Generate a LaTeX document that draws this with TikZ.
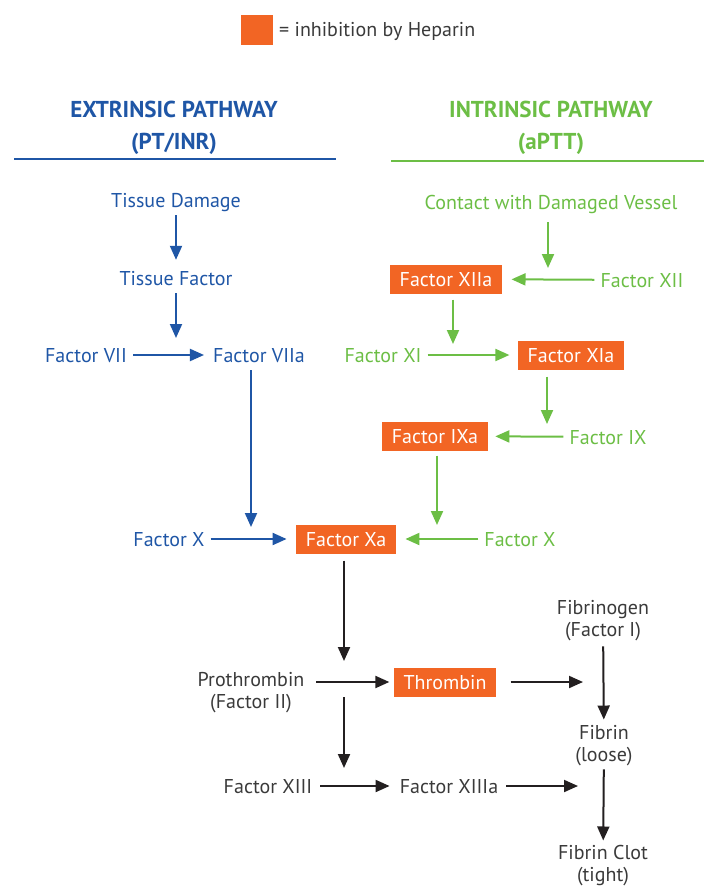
\documentclass[tikz,border=0pt]{standalone}
\usepackage{fontspec}
\setmainfont{PT Sans}
\usetikzlibrary{arrows.meta}
\definecolor{eblue}{HTML}{1F56A6}
\definecolor{igreen}{HTML}{6CBE45}
\definecolor{hep}{HTML}{F26524}
\definecolor{dk}{HTML}{231F20}
\definecolor{txt}{HTML}{3A3A3A}
\begin{document}
\begin{tikzpicture}[x=1pt,y=-1pt,
  lbl/.style={font=\fontsize{20}{22}\selectfont, inner sep=0pt, text height=17pt, text depth=3pt},
  lbl2/.style={font=\fontsize{20}{22}\selectfont, inner sep=0pt, align=center},
  hbox/.style={lbl, fill=hep, text=white, minimum height=29pt, inner xsep=10pt},
  head/.style={font=\bfseries\fontsize{23}{32}\selectfont, inner sep=0pt, align=center},
  arr/.style={-{Triangle[length=14pt,width=12pt]}, line width=2pt},
  barr/.style={arr, draw=eblue},
  garr/.style={arr, draw=igreen},
  karr/.style={arr, draw=dk}]
\useasboundingbox (0,0) rectangle (704,886);

% legend
\node[fill=hep, minimum width=32pt, minimum height=30pt, inner sep=0pt] (leg) at (257,30) {};
\node[lbl, anchor=west, text=txt] (legt) at (279,29) {= inhibition by Heparin};

% headings
\node[head, text=eblue] (eh) at (174,128) {EXTRINSIC PATHWAY\\(PT/INR)};
\node[head, text=igreen] (ih) at (551,128) {INTRINSIC PATHWAY\\(aPTT)};
\coordinate (el1) at (14,159); \coordinate (el2) at (336,159);
\coordinate (il1) at (391,161); \coordinate (il2) at (704,161);
\draw[eblue, line width=2.5pt] (el1) -- (el2);
\draw[igreen, line width=2.5pt] (il1) -- (il2);

% extrinsic
\node[lbl, text=eblue] (td) at (176,200) {Tissue Damage};
\node[lbl, text=eblue] (tf) at (176,278) {Tissue Factor};
\node[lbl, text=eblue] (fvii) at (86,355) {Factor VII};
\node[lbl, text=eblue] (fviia) at (259,355) {Factor VIIa};
\node[lbl, text=eblue] (fxb) at (169,539) {Factor X};

% intrinsic
\node[lbl, text=igreen] (cdv) at (551,202) {Contact with Damaged Vessel};
\node[hbox] (fxiia) at (446,279) {Factor XIIa};
\node[lbl, text=igreen] (fxii) at (642,280) {Factor XII};
\node[lbl, text=igreen] (fxi) at (383,355) {Factor XI};
\node[hbox] (fxia) at (571,355) {Factor XIa};
\node[hbox] (fixa) at (435,436) {Factor IXa};
\node[lbl, text=igreen] (fix) at (608,437) {Factor IX};
\node[lbl, text=igreen] (fxg) at (520,539) {Factor X};

% common
\node[hbox] (fxa) at (346,539) {Factor Xa};
\node[lbl2, text=txt] (pro) at (251,693) {Prothrombin\\(Factor II)};
\node[hbox] (thr) at (445,682) {Thrombin};
\node[lbl2, text=txt] (fbg) at (603,621) {Fibrinogen\\(Factor I)};
\node[lbl2, text=txt] (fib) at (604,746) {Fibrin\\(loose)};
\node[lbl2, text=txt] (fcl) at (603,866) {Fibrin Clot\\(tight)};
\node[lbl, text=txt] (fxiii) at (268,786) {Factor XIII};
\node[lbl, text=txt] (fxiiia) at (449,786) {Factor XIIIa};

% free ends
\coordinate (a2) at (176,338);
\coordinate (a4) at (251,527);
\coordinate (a7) at (548,268);
\coordinate (a9) at (453,344);
\coordinate (a11) at (547,424);
\coordinate (a13) at (437,525);
\coordinate (a14) at (344,661);
\coordinate (a16) at (583,682);
\coordinate (j2) at (344,697);
\coordinate (a19) at (344,768);
\coordinate (a21) at (578,786);

% extrinsic arrows
\draw[barr, shorten <=5pt, shorten >=8pt] (td) -- (tf);
\draw[barr, shorten <=5pt] (tf) -- (a2);
\draw[barr, shorten <=6pt, shorten >=9pt] (fvii) -- (fviia);
\draw[barr, shorten <=5pt] (fviia.south -| a4) -- (a4);
\draw[barr, shorten <=6pt, shorten >=9pt] (fxb) -- (fxa);

% intrinsic arrows
\draw[garr, shorten <=10pt] (cdv.south -| a7) -- (a7);
\draw[garr, shorten <=6pt, shorten >=9pt] (fxii) -- (fxiia);
\draw[garr, shorten <=6pt] (fxiia.south -| a9) -- (a9);
\draw[garr, shorten <=6pt, shorten >=8pt] (fxi) -- (fxia);
\draw[garr, shorten <=7pt] (fxia.south -| a11) -- (a11);
\draw[garr, shorten <=6pt, shorten >=7pt] (fix) -- (fixa);
\draw[garr, shorten <=5pt] (fixa.south -| a13) -- (a13);
\draw[garr, shorten <=6pt, shorten >=9pt] (fxg) -- (fxa);

% common arrows
\draw[karr, shorten <=7pt] (fxa.south -| a14) -- (a14);
\draw[karr, shorten <=12pt, shorten >=4pt] (pro.east |- thr) -- (thr);
\draw[karr, shorten <=14pt] (thr) -- (a16);
\draw[karr, shorten <=5pt, shorten >=6pt] (fbg) -- (fib);
\draw[karr, shorten <=3pt, shorten >=5pt] (fib) -- (fcl);
\draw[karr] (j2) -- (a19);
\draw[karr, shorten <=8pt, shorten >=10pt] (fxiii) -- (fxiiia);
\draw[karr, shorten <=8pt] (fxiiia) -- (a21);
\end{tikzpicture}
\end{document}
